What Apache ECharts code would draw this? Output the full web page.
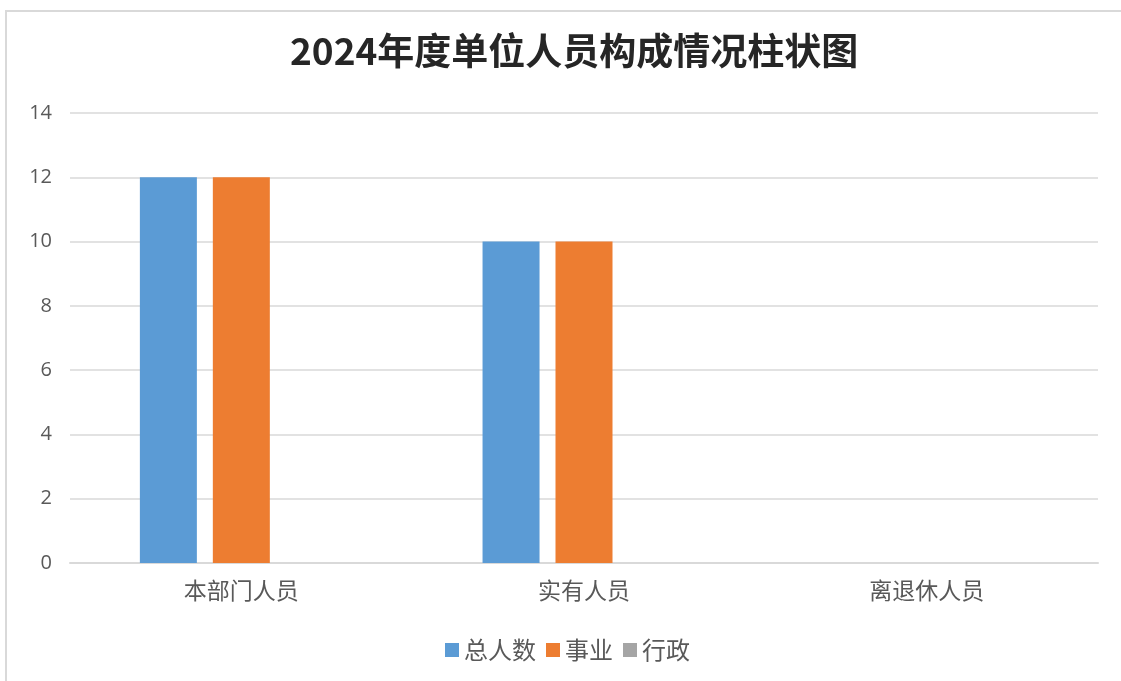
<!DOCTYPE html>
<html>
<head>
<meta charset="utf-8">
<script src="https://cdn.jsdelivr.net/npm/echarts@6/dist/echarts.min.js"></script>
<style>
  html, body { margin: 0; padding: 0; background: #fff; overflow: hidden; }
  #chart { width: 1121px; height: 681px; }
</style>
</head>
<body>
<div id="chart"></div>
<script>
// 类别和数据
const categories = ['本部门人员', '实有人员', '离退休人员']
const totalValues = [12, 10, 0]
const shiyeValues = [12, 10, 0]
const xingzhengValues = [0, 0, 0]
const seriesNames = ['总人数', '事业', '行政']
const colors = ['#5b9bd5', '#ed7d31', '#a5a5a5']

const chart = echarts.init(document.getElementById('chart'))

const font = '"Noto Sans CJK SC", "Noto Sans", sans-serif'

const option = {
  animation: false,
  color: colors,
  // 外框（上、左）
  graphic: [
    { type: 'line', shape: { x1: 5, y1: 11, x2: 1121, y2: 11 }, style: { stroke: '#d9d9d9', lineWidth: 2 } },
    { type: 'line', shape: { x1: 6, y1: 10, x2: 6, y2: 681 }, style: { stroke: '#d9d9d9', lineWidth: 2 } }
  ],
  title: {
    text: '2024年度单位人员构成情况柱状图',
    left: 285,
    top: 27,
    textStyle: {
      fontFamily: font,
      fontSize: 37,
      fontWeight: 'bold',
      color: '#262626'
    }
  },
  legend: {
    bottom: 14,
    left: 440,
    itemWidth: 14,
    itemHeight: 14,
    itemGap: 10,
    icon: 'rect',
    textStyle: { fontFamily: font, fontSize: 24, color: '#595959' },
    data: seriesNames
  },
  grid: {
    left: 70,
    right: 23,
    top: 113,
    bottom: 118,
    containLabel: false
  },
  xAxis: {
    type: 'category',
    data: categories,
    axisTick: { show: false },
    axisLine: { lineStyle: { color: '#d9d9d9', width: 2 } },
    axisLabel: { fontFamily: font, fontSize: 23, color: '#595959', margin: 16 }
  },
  yAxis: {
    type: 'value',
    min: 0,
    max: 14,
    interval: 2,
    axisLine: { show: false },
    axisTick: { show: false },
    splitLine: { lineStyle: { color: '#d9d9d9', width: 1.5 } },
    axisLabel: { fontFamily: '"Open Sans", "Noto Sans", sans-serif', fontSize: 20, color: '#595959', margin: 18 }
  },
  series: [
    { name: seriesNames[0], type: 'bar', data: totalValues, barWidth: 57, barGap: '28%' },
    { name: seriesNames[1], type: 'bar', data: shiyeValues, barWidth: 57, barGap: '28%' },
    { name: seriesNames[2], type: 'bar', data: xingzhengValues, barWidth: 57, barGap: '28%' }
  ]
}

chart.setOption(option)
</script>
</body>
</html>
